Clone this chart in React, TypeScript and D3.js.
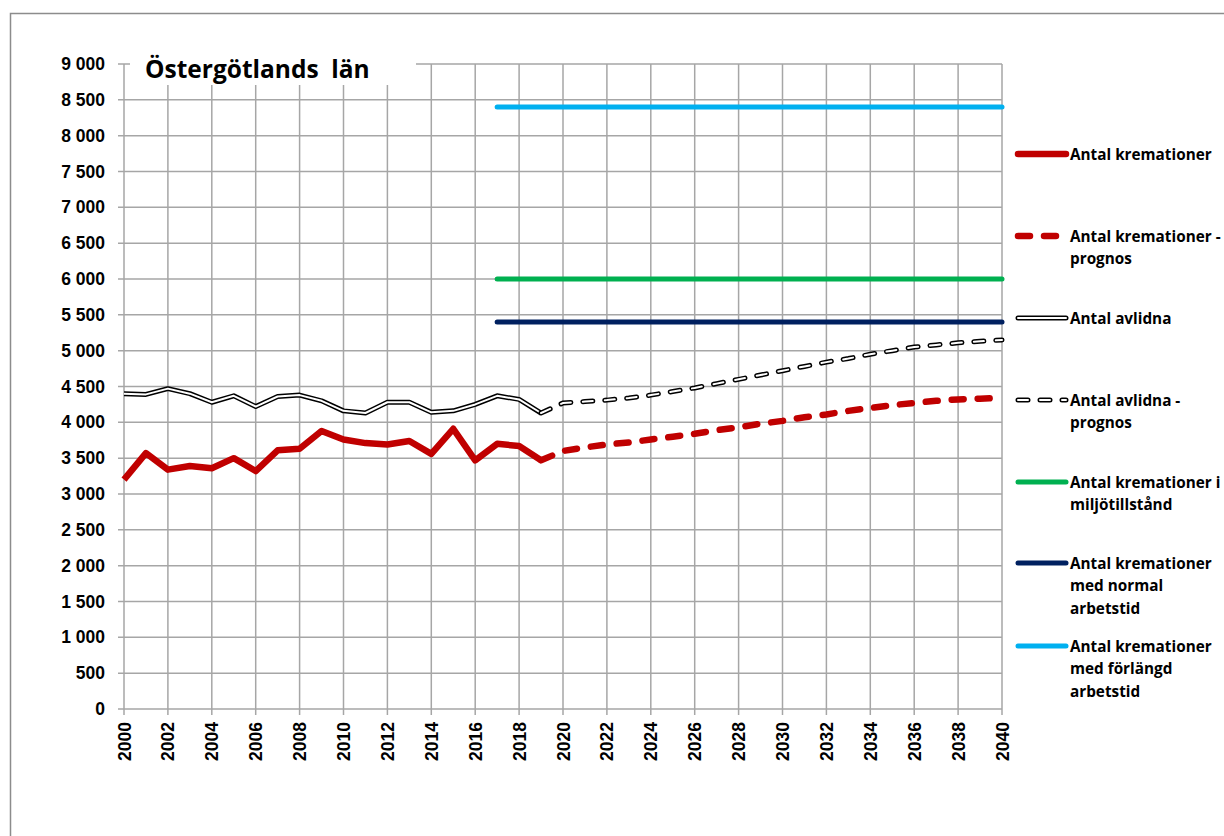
import React from "react";
import * as d3 from "d3";

const yearsHist = [2000, 2001, 2002, 2003, 2004, 2005, 2006, 2007, 2008, 2009, 2010, 2011, 2012, 2013, 2014, 2015, 2016, 2017, 2018, 2019];
const kremHist = [3200, 3570, 3340, 3390, 3360, 3500, 3320, 3610, 3630, 3880, 3760, 3710, 3690, 3740, 3560, 3910, 3470, 3700, 3670, 3470];
const avlHist = [4400, 4390, 4470, 4400, 4280, 4370, 4220, 4360, 4380, 4300, 4160, 4130, 4280, 4280, 4140, 4160, 4250, 4370, 4320, 4130];

const yearsProg = [2019, 2020, 2021, 2022, 2023, 2024, 2025, 2026, 2027, 2028, 2029, 2030, 2031, 2032, 2033, 2034, 2035, 2036, 2037, 2038, 2039, 2040];
const kremProg = [3470, 3600, 3650, 3690, 3720, 3760, 3800, 3840, 3890, 3930, 3980, 4020, 4070, 4110, 4160, 4200, 4240, 4270, 4300, 4320, 4330, 4340];
const avlProg = [4130, 4270, 4290, 4310, 4340, 4380, 4430, 4480, 4540, 4600, 4660, 4720, 4780, 4840, 4890, 4950, 5000, 5050, 5080, 5110, 5130, 5150];

const capYears = [2017, 2040];
const capMiljo = [6000, 6000];
const capNormal = [5400, 5400];
const capForlangd = [8400, 8400];

const yTicks = d3.range(0, 9001, 500);
const xTicks = d3.range(2000, 2041, 2);

const legendItems = [
  { lines: ["Antal kremationer"], kind: "red" },
  { lines: ["Antal kremationer -", "prognos"], kind: "redDash" },
  { lines: ["Antal avlidna"], kind: "double" },
  { lines: ["Antal avlidna -", "prognos"], kind: "doubleDash" },
  { lines: ["Antal kremationer i", "miljötillstånd"], kind: "green" },
  { lines: ["Antal kremationer", "med normal", "arbetstid"], kind: "navy" },
  { lines: ["Antal kremationer", "med förlängd", "arbetstid"], kind: "cyan" },
];
const legendY = [154, 236, 318, 400, 482, 563, 646];

const RED = "#c00000";
const GREEN = "#00b050";
const NAVY = "#002060";
const CYAN = "#00b0f0";
const GRID = "#a6a6a6";

export default function App() {
  const x = d3.scaleLinear().domain([2000, 2040]).range([124, 1002]);
  const y = d3.scaleLinear().domain([0, 9000]).range([709, 64]);
  const line = d3
    .line<[number, number]>()
    .x((d) => x(d[0]))
    .y((d) => y(d[1]));
  const pts = (xs: number[], vs: number[]) => xs.map((v, i) => [v, vs[i]] as [number, number]);

  const fmt = (v: number) => (v >= 1000 ? `${Math.floor(v / 1000)} ${String(v % 1000).padStart(3, "0")}` : String(v));

  const axisFont = "'Liberation Sans', Arial, sans-serif";
  const legFont = "'Open Sans', 'Noto Sans', sans-serif";

  const legendSample = (kind: string, cy: number) => {
    const x1 = 1018, x2 = 1066;
    const d = `M${x1},${cy}L${x2},${cy}`;
    switch (kind) {
      case "red":
        return <path d={d} stroke={RED} strokeWidth={6.5} strokeLinecap="round" fill="none" />;
      case "redDash":
        return <path d={d} stroke={RED} strokeWidth={6.5} strokeLinecap="round" strokeDasharray="12 14" fill="none" />;
      case "double":
        return (
          <g>
            <path d={d} stroke="#000" strokeWidth={5} strokeLinecap="round" fill="none" />
            <path d={d} stroke="#fff" strokeWidth={2} strokeLinecap="round" fill="none" />
          </g>
        );
      case "doubleDash":
        return (
          <g>
            <path d={d} stroke="#000" strokeWidth={5} strokeLinecap="round" strokeDasharray="10 12" fill="none" />
            <path d={d} stroke="#fff" strokeWidth={2} strokeLinecap="round" strokeDasharray="10 12" fill="none" />
          </g>
        );
      case "green":
        return <path d={d} stroke={GREEN} strokeWidth={5} strokeLinecap="round" fill="none" />;
      case "navy":
        return <path d={d} stroke={NAVY} strokeWidth={5} strokeLinecap="round" fill="none" />;
      default:
        return <path d={d} stroke={CYAN} strokeWidth={5} strokeLinecap="round" fill="none" />;
    }
  };

  return (
    <svg width={1224} height={836} style={{ position: "absolute", left: 0, top: 0, background: "#fff" }}>
      <rect x={10.5} y={13.5} width={1230} height={840} fill="#fff" stroke="#8c8c8c" strokeWidth={1.5} />

      {/* grid */}
      {yTicks.map((t) => (
        <line key={"h" + t} x1={118} x2={x(2040)} y1={y(t)} y2={y(t)} stroke={GRID} strokeWidth={1.5} />
      ))}
      {xTicks.map((t) => (
        <line key={"v" + t} x1={x(t)} x2={x(t)} y1={y(9000)} y2={y(0) + 6} stroke={GRID} strokeWidth={1.5} />
      ))}

      {/* title box */}
      <rect x={130} y={44} width={286} height={41} fill="#fff" />
      <text x={145} y={78} fontFamily={legFont} fontWeight={700} fontSize={24.5} fill="#000" style={{ whiteSpace: "pre" }}>
        Östergötlands  län
      </text>

      {/* y labels */}
      {yTicks.map((t) => (
        <text key={"yl" + t} x={105} y={y(t) + 6} textAnchor="end" fontFamily={axisFont} fontWeight={700} fontSize={17.5} fill="#000">
          {fmt(t)}
        </text>
      ))}
      {/* x labels */}
      {xTicks.map((t) => (
        <text
          key={"xl" + t}
          transform={`translate(${x(t) + 6.5},${722}) rotate(-90)`}
          textAnchor="end"
          fontFamily={axisFont}
          fontWeight={700}
          fontSize={17.5}
          fill="#000"
        >
          {t}
        </text>
      ))}

      {/* capacity lines */}
      <path d={line(pts(capYears, capForlangd)) || ""} stroke={CYAN} strokeWidth={5} strokeLinecap="round" fill="none" />
      <path d={line(pts(capYears, capMiljo)) || ""} stroke={GREEN} strokeWidth={5} strokeLinecap="round" fill="none" />
      <path d={line(pts(capYears, capNormal)) || ""} stroke={NAVY} strokeWidth={5} strokeLinecap="round" fill="none" />

      {/* avlidna */}
      <path d={line(pts(yearsHist, avlHist)) || ""} stroke="#000" strokeWidth={5} strokeLinejoin="round" fill="none" />
      <path d={line(pts(yearsHist, avlHist)) || ""} stroke="#fff" strokeWidth={2} strokeLinejoin="round" fill="none" />
      <path d={line(pts(yearsProg, avlProg)) || ""} stroke="#000" strokeWidth={5} strokeLinecap="round" strokeDasharray="10 12" fill="none" />
      <path d={line(pts(yearsProg, avlProg)) || ""} stroke="#fff" strokeWidth={2} strokeLinecap="round" strokeDasharray="10 12" fill="none" />

      {/* kremationer */}
      <path d={line(pts(yearsHist, kremHist)) || ""} stroke={RED} strokeWidth={6.5} strokeLinejoin="round" fill="none" />
      <path d={line(pts(yearsProg, kremProg)) || ""} stroke={RED} strokeWidth={6.5} strokeLinecap="round" strokeDasharray="12 14" fill="none" />

      {/* legend */}
      {legendItems.map((item, i) => (
        <g key={"lg" + i}>
          {legendSample(item.kind, legendY[i])}
          {item.lines.map((ln, j) => (
            <text key={j} x={1070} y={legendY[i] + 5.5 + j * 22.7} fontFamily={legFont} fontWeight={700} fontSize={15.3} fill="#000">
              {ln}
            </text>
          ))}
        </g>
      ))}
    </svg>
  );
}
